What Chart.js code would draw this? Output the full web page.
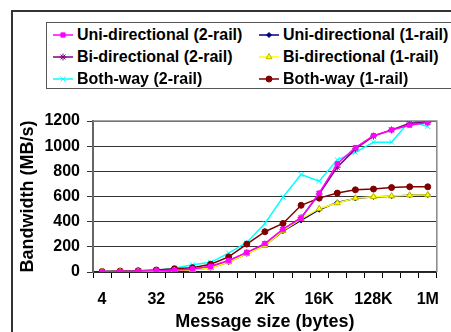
<html>
<head>
    <meta charset="utf-8" />
    <title>Bandwidth</title>
    <script src="https://cdn.jsdelivr.net/npm/chart.js"></script>
    <style>
        body { margin: 0; background: #fff; overflow: hidden; }
        #wrap { position: relative; width: 451px; height: 332px; overflow: hidden; }
        #frame { position: absolute; left: 11px; top: 10px; width: 500px; height: 400px;
                 border-left: 2px solid #333; border-top: 2px solid #333; }
        #legend { position: absolute; left: 46px; top: 22px; width: 420px; height: 64px;
                  border: 1px solid #555; background: #fff; padding-top: 1px;
                  font: bold 16px "Liberation Sans", Arial, sans-serif; color: #000; }
        #legend .item { position: absolute; height: 22px; line-height: 22px; white-space: nowrap; }
        #legend canvas { vertical-align: middle; margin-right: 4px; position: relative; top: -1px; }
        #monitor { position: absolute; left: 0; top: 0; }
    </style>
</head>
<body>
<div id="wrap">
    <div id="frame"></div>
    <canvas id="monitor" width="451" height="332"></canvas>
    <div id="legend"></div>
</div>

<script>
    const labels = ['4', '8', '16', '32', '64', '128', '256', '512', '1K', '2K', '4K', '8K',
        '16K', '32K', '64K', '128K', '256K', '512K', '1M'];

    const uni2 = [2, 4, 6, 9, 14, 24, 45, 92, 156, 226, 340, 428, 627, 860, 989, 1084, 1129, 1167, 1188];
    const uni1 = [2, 3, 5, 8, 12, 20, 34, 80, 146, 212, 325, 410, 495, 553, 585, 597, 602, 610, 612];
    const bi2 = [2, 4, 6, 9, 14, 22, 42, 88, 152, 222, 336, 432, 620, 833, 978, 1080, 1129, 1183, 1190];
    const bi1 = [1, 3, 4, 7, 11, 18, 32, 79, 145, 209, 328, 423, 503, 548, 587, 598, 603, 610, 612];
    const both2 = [3, 5, 8, 13, 30, 58, 77, 150, 235, 386, 595, 775, 722, 891, 952, 1032, 1032, 1200, 1156];
    const both1 = [4, 8, 10, 16, 26, 34, 62, 120, 222, 320, 386, 530, 587, 627, 653, 659, 671, 677, 677];

    const font = '"Liberation Sans", Arial, sans-serif';

    function series(label, data, color, style, radius, order, border) {
        return {
            label: label,
            data: data,
            order: order,
            borderColor: color,
            backgroundColor: color,
            pointBorderColor: border || color,
            pointStyle: style,
            pointRadius: radius,
            pointBorderWidth: 1,
            borderWidth: 1.5,
            tension: 0,
        };
    }

    // plot area frame (grey top/right edge like the original)
    const plotBorder = {
        id: 'plotBorder',
        beforeDatasetsDraw(chart) {
            const a = chart.chartArea;
            const c = chart.ctx;
            c.save();
            c.strokeStyle = '#888';
            c.lineWidth = 1.5;
            c.beginPath();
            c.moveTo(a.left, a.top);
            c.lineTo(a.right, a.top);
            c.lineTo(a.right, a.bottom);
            c.stroke();
            c.restore();
        }
    };

    const chart = new Chart(document.getElementById('monitor'), {
        type: 'line',
        data: {
            labels: labels,
            datasets: [
                series('Uni-directional (2-rail)', uni2, '#FF00FF', 'rect', 3, 0),
                series('Uni-directional (1-rail)', uni1, '#000080', 'rectRot', 2.5, 3),
                series('Bi-directional (2-rail)', bi2, '#800080', 'star', 3.5, 2),
                series('Bi-directional (1-rail)', bi1, '#FFFF00', 'triangle', 3.5, 1, '#b8b800'),
                series('Both-way (2-rail)', both2, '#00FFFF', 'crossRot', 3.5, 5),
                series('Both-way (1-rail)', both1, '#800000', 'circle', 3, 4),
            ]
        },
        options: {
            responsive: false,
            animation: false,
            layout: { padding: { top: 121, right: 2, left: 0, bottom: 0 } },
            plugins: {
                legend: { display: false },
                tooltip: { enabled: false },
            },
            scales: {
                x: {
                    offset: true,
                    afterFit: s => { s.height = 60; },
                    grid: { offset: true, drawOnChartArea: false, tickLength: 6, color: '#000' },
                    border: { color: '#222', width: 1.5 },
                    ticks: {
                        autoSkip: false,
                        maxRotation: 0,
                        padding: 12,
                        color: '#000',
                        font: { family: font, size: 16, weight: 'bold' },
                        callback: (v, i) => (i % 3 === 0 ? labels[i] : ''),
                    },
                    title: {
                        display: true,
                        text: 'Message size (bytes)',
                        color: '#000',
                        padding: { top: 0, bottom: 0 },
                        font: { family: font, size: 18, weight: 'bold', lineHeight: 1.1 },
                    },
                },
                y: {
                    min: 0,
                    max: 1200,
                    afterFit: s => { s.width = 93; },
                    grid: { color: '#333', lineWidth: 1, tickLength: 6 },
                    border: { color: '#666', width: 2 },
                    ticks: {
                        stepSize: 200,
                        padding: 7,
                        color: '#000',
                        font: { family: font, size: 16, weight: 'bold' },
                        callback: v => String(v),
                    },
                    title: {
                        display: true,
                        text: 'Bandwidth (MB/s)',
                        color: '#000',
                        padding: { top: 17, bottom: 0 },
                        font: { family: font, size: 18, weight: 'bold' },
                    },
                },
            },
        },
        plugins: [plotBorder],
    });

    // html legend in two columns, built from the chart's datasets
    const legend = document.getElementById('legend');
    chart.data.datasets.forEach((ds, i) => {
        const item = document.createElement('div');
        item.className = 'item';
        item.style.left = (i % 2 === 0 ? 6 : 212) + 'px';
        item.style.top = (1 + Math.floor(i / 2) * 22) + 'px';
        const c = document.createElement('canvas');
        c.width = 20;
        c.height = 10;
        const g = c.getContext('2d');
        g.strokeStyle = ds.borderColor;
        g.lineWidth = 1.5;
        g.beginPath();
        g.moveTo(0, 5);
        g.lineTo(20, 5);
        g.stroke();
        g.fillStyle = ds.backgroundColor;
        g.strokeStyle = ds.pointBorderColor;
        g.lineWidth = 1;
        if (Chart.helpers && Chart.helpers.drawPoint) {
            Chart.helpers.drawPoint(g, {pointStyle: ds.pointStyle, radius: ds.pointRadius, borderWidth: 1, rotation: 0}, 10, 5);
        } else {
            g.fillRect(8, 3, 4, 4);
        }
        item.appendChild(c);
        item.appendChild(document.createTextNode(ds.label));
        legend.appendChild(item);
    });
</script>
</body>
</html>
